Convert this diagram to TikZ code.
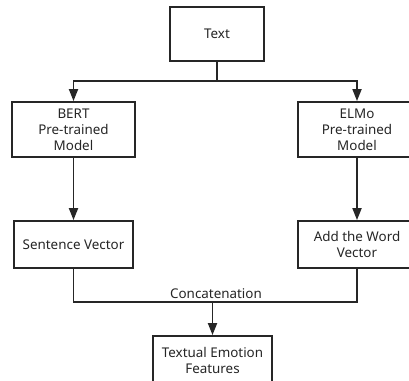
\documentclass[tikz,border=0pt]{standalone}
\usepackage{fontspec}
\setmainfont{Noto Sans}
\usetikzlibrary{arrows.meta}
\definecolor{ink}{HTML}{262626}
\tikzset{
  lbl/.style={text=ink, font=\fontsize{13.4}{16}\selectfont},
  box/.style={lbl, draw=ink, line width=1.8pt, align=center, inner sep=0pt},
  conn/.style={draw=ink, line width=1.8pt},
  arr/.style={conn, -{Triangle[width=9pt,length=12pt]}},
}
\begin{document}
\begin{tikzpicture}[x=1pt,y=-1pt]
\path[use as bounding box, clip] (0,0) rectangle (409,380);
\fill[white] (0,0) rectangle (409,380);
\node[box, minimum width=94pt, minimum height=54pt] (text) at (217,34) {Text};
\node[box, minimum width=123pt, minimum height=55pt] (bert) at (73.5,129.5) {BERT\\Pre-trained\\Model};
\node[box, minimum width=118pt, minimum height=55pt] (elmo) at (357,129.5) {ELMo\\Pre-trained\\Model};
\node[box, minimum width=119pt, minimum height=47pt] (sent) at (73.5,244.5) {Sentence Vector};
\node[box, minimum width=118pt, minimum height=47pt] (add) at (357,244.5) {Add the Word\\Vector};
\node[box, minimum width=119pt, minimum height=48pt] (feat) at (212.5,360) {Textual Emotion\\Features};
\coordinate (split) at (217,81);
\coordinate (join) at (212.5,302);
\draw[conn] (text.south) -- (split);
\draw[arr] (split) -| (bert.north);
\draw[arr] (split) -| (elmo.north);
\draw[arr] (bert.south) -- (sent.north);
\draw[arr] (elmo.south) -- (add.north);
\draw[conn] (sent.south) |- (join) node[pos=1, above, yshift=0pt, xshift=3.5pt, lbl, inner sep=2pt] (lab) {Concatenation} -| (add.south);
\draw[arr] (join) -- (feat.north);
\end{tikzpicture}
\end{document}
